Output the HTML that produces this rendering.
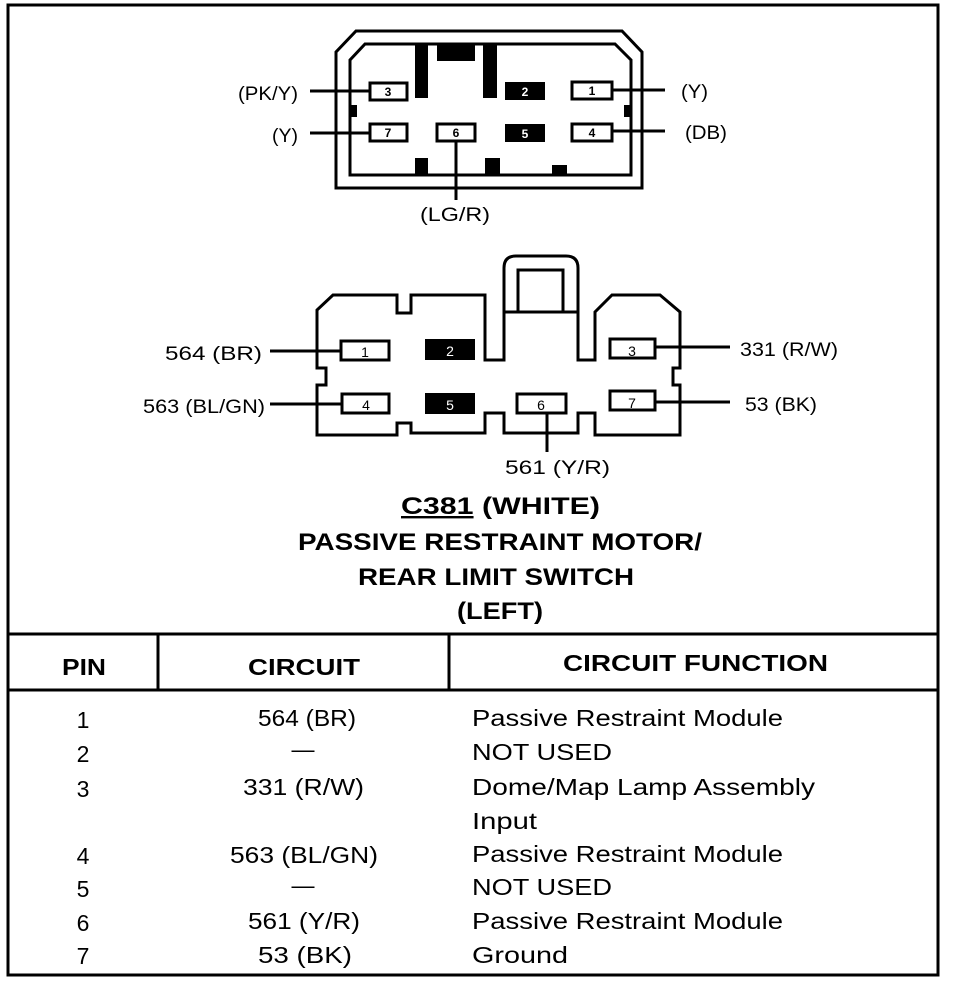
<!DOCTYPE html>
<html><head><style>
body{margin:0;background:#fff;}
svg text{font-family:"Liberation Sans",Arial,sans-serif;fill:#000;}
</style></head><body>
<svg width="960" height="982" viewBox="0 0 960 982" xmlns="http://www.w3.org/2000/svg">
<rect x="8" y="5" width="930" height="970" fill="none" stroke="#000" stroke-width="3"/>
<!-- top connector -->
<g fill="none" stroke="#000" stroke-width="3">
<path d="M336,188 V52 L356,31 H622 L642,52 V188 Z"/>
<path d="M350,175 V60 L365,44 H615 L631,60 V175 Z"/>
</g>
<g fill="#000">
<rect x="415" y="45" width="13" height="53"/><rect x="437" y="45" width="38" height="16"/><rect x="483" y="45" width="14" height="53"/>
<rect x="415" y="158" width="13" height="17"/><rect x="485" y="158" width="15" height="17"/><rect x="552" y="165" width="15" height="10"/>
<rect x="351" y="105" width="6" height="12"/><rect x="624" y="105" width="6" height="12"/>
<rect x="505" y="82" width="40" height="18"/><rect x="505" y="124" width="40" height="18"/>
</g>
<g fill="#fff" stroke="#000" stroke-width="3">
<rect x="370" y="83" width="37" height="17"/><rect x="572" y="82" width="40" height="17"/>
<rect x="370" y="124" width="37" height="17"/><rect x="437" y="124" width="38" height="17"/><rect x="572" y="124" width="40" height="17"/>
</g>
<g font-size="12" font-weight="bold" text-anchor="middle">
<text x="388" y="96">3</text><text x="525" y="96" style="fill:#fff">2</text><text x="592" y="95">1</text>
<text x="388" y="137">7</text><text x="456" y="137">6</text><text x="525" y="138" style="fill:#fff">5</text><text x="592" y="137">4</text>
</g>
<g stroke="#000" stroke-width="3">
<line x1="310" y1="91" x2="370" y2="91"/><line x1="612" y1="90" x2="665" y2="90"/>
<line x1="310" y1="133" x2="370" y2="133"/><line x1="612" y1="131" x2="665" y2="131"/>
<line x1="456" y1="141" x2="456" y2="200"/>
</g>
<g font-size="19" lengthAdjust="spacingAndGlyphs">
<text x="238" y="100" textLength="60" lengthAdjust="spacingAndGlyphs">(PK/Y)</text>
<text x="272" y="142" textLength="26" lengthAdjust="spacingAndGlyphs">(Y)</text>
<text x="681" y="98" textLength="27" lengthAdjust="spacingAndGlyphs">(Y)</text>
<text x="685" y="139" textLength="42" lengthAdjust="spacingAndGlyphs">(DB)</text>
<text x="420" y="221" textLength="70" lengthAdjust="spacingAndGlyphs">(LG/R)</text>
</g>
<!-- bottom connector -->
<g fill="none" stroke="#000" stroke-width="3">
<path d="M317,435 V385 H326 V368 H317 V310 L333,295 H397 V313 H411 V295 H485 V360 H504 V312 H578 V360 H595 V312 L612,295 H660 L680,312 V368 H673 V385 H680 V435 H595 V413 H578 V433 H504 V413 H485 V433 H411 V423 H397 V435 Z"/>
<path d="M504,312 V268 Q504,256 516,256 H566 Q578,256 578,268 V312"/>
<rect x="518" y="270" width="45" height="42"/>
</g>
<g fill="#000"><rect x="425" y="339" width="50" height="21"/><rect x="425" y="393" width="50" height="21"/></g>
<g fill="#fff" stroke="#000" stroke-width="3">
<rect x="341" y="341" width="48" height="19"/><rect x="610" y="339" width="45" height="19"/>
<rect x="342" y="394" width="47" height="19"/><rect x="517" y="394" width="49" height="19"/><rect x="610" y="391" width="45" height="19"/>
</g>
<g font-size="14" text-anchor="middle">
<text x="365" y="357">1</text><text x="450" y="356" style="fill:#fff">2</text><text x="632" y="356">3</text>
<text x="366" y="410">4</text><text x="450" y="410" style="fill:#fff">5</text><text x="541" y="410">6</text><text x="632" y="408">7</text>
</g>
<g stroke="#000" stroke-width="3">
<line x1="270" y1="351" x2="341" y2="351"/><line x1="270" y1="404" x2="342" y2="404"/>
<line x1="655" y1="347" x2="730" y2="347"/><line x1="655" y1="402" x2="730" y2="402"/>
<line x1="547" y1="413" x2="547" y2="452"/>
</g>
<g font-size="19">
<text x="165" y="360" textLength="97" lengthAdjust="spacingAndGlyphs">564 (BR)</text>
<text x="143" y="413" textLength="122" lengthAdjust="spacingAndGlyphs">563 (BL/GN)</text>
<text x="740" y="356" textLength="98" lengthAdjust="spacingAndGlyphs">331 (R/W)</text>
<text x="745" y="411" textLength="72" lengthAdjust="spacingAndGlyphs">53 (BK)</text>
<text x="505" y="474" textLength="105" lengthAdjust="spacingAndGlyphs">561 (Y/R)</text>
</g>
<g font-size="24" font-weight="bold">
<text x="401" y="514" textLength="199" lengthAdjust="spacingAndGlyphs"><tspan text-decoration="underline">C381</tspan>  (WHITE)</text>
<text x="298" y="550" textLength="404" lengthAdjust="spacingAndGlyphs">PASSIVE RESTRAINT MOTOR/</text>
<text x="358" y="585" textLength="276" lengthAdjust="spacingAndGlyphs">REAR LIMIT SWITCH</text>
<text x="457" y="619" textLength="86" lengthAdjust="spacingAndGlyphs">(LEFT)</text>
</g>
<!-- table -->
<g stroke="#000" stroke-width="3">
<line x1="8" y1="634" x2="938" y2="634"/><line x1="8" y1="690" x2="938" y2="690"/>
<line x1="158" y1="634" x2="158" y2="690"/><line x1="449" y1="634" x2="449" y2="690"/>
</g>
<g font-size="23" font-weight="bold">
<text x="62" y="675" textLength="44" lengthAdjust="spacingAndGlyphs">PIN</text>
<text x="248" y="675" textLength="112" lengthAdjust="spacingAndGlyphs">CIRCUIT</text>
<text x="563" y="671" textLength="265" lengthAdjust="spacingAndGlyphs">CIRCUIT FUNCTION</text>
</g>
<g font-size="23">
<g text-anchor="middle">
<text x="83" y="728">1</text><text x="83" y="762">2</text><text x="83" y="797">3</text><text x="83" y="864">4</text><text x="83" y="897">5</text><text x="83" y="931">6</text><text x="83" y="964">7</text>
<text x="303" y="757">—</text><text x="303" y="893">—</text>
</g>
<text x="258" y="726" textLength="98" lengthAdjust="spacingAndGlyphs">564 (BR)</text>
<text x="243" y="795" textLength="121" lengthAdjust="spacingAndGlyphs">331 (R/W)</text>
<text x="230" y="863" textLength="148" lengthAdjust="spacingAndGlyphs">563 (BL/GN)</text>
<text x="248" y="929" textLength="112" lengthAdjust="spacingAndGlyphs">561 (Y/R)</text>
<text x="258" y="963" textLength="94" lengthAdjust="spacingAndGlyphs">53 (BK)</text>
<text x="472" y="726" textLength="311" lengthAdjust="spacingAndGlyphs">Passive Restraint Module</text>
<text x="472" y="760" textLength="140" lengthAdjust="spacingAndGlyphs">NOT USED</text>
<text x="472" y="795" textLength="343" lengthAdjust="spacingAndGlyphs">Dome/Map Lamp Assembly</text>
<text x="472" y="829" textLength="65" lengthAdjust="spacingAndGlyphs">Input</text>
<text x="472" y="862" textLength="311" lengthAdjust="spacingAndGlyphs">Passive Restraint Module</text>
<text x="472" y="895" textLength="140" lengthAdjust="spacingAndGlyphs">NOT USED</text>
<text x="472" y="929" textLength="311" lengthAdjust="spacingAndGlyphs">Passive Restraint Module</text>
<text x="472" y="963" textLength="96" lengthAdjust="spacingAndGlyphs">Ground</text>
</g>
</svg>
</body></html>
